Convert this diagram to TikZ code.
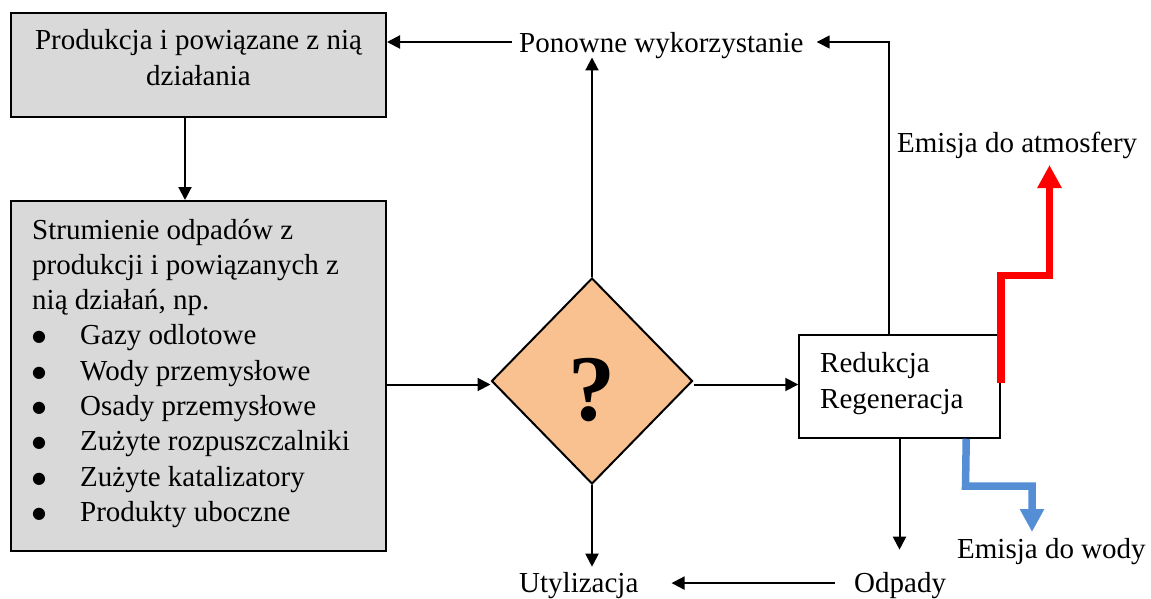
\documentclass[tikz,border=0pt]{standalone}
\usepackage{fontspec}
\setmainfont{Liberation Serif}
\newfontfamily\dejavu{DejaVu Sans}
\usetikzlibrary{arrows.meta,shapes.geometric}
\definecolor{boxgray}{HTML}{D9D9D9}
\definecolor{peach}{HTML}{F8C18F}
\definecolor{emblue}{HTML}{558ED5}
\newcommand{\blt}{\makebox[48pt][l]{\raisebox{3pt}[0pt][0pt]{\dejavu\fontsize{16pt}{16pt}\selectfont ●}}}
\begin{document}
\begin{tikzpicture}[x=1pt,y=-1pt,
  txt/.style={font=\fontsize{29pt}{35.3pt}\selectfont, inner sep=0pt},
  graybox/.style={draw=black, line width=2pt, fill=boxgray, rectangle, inner sep=0pt},
  arr/.style={line width=2pt, -{Triangle[length=13pt,width=13pt]}},
  thickarr/.style={line width=7.5pt, line join=miter, -{Triangle[length=23pt,width=23pt]}},
]
\useasboundingbox (0,0) rectangle (1151,599);

% boxes
\node[graybox, minimum width=375pt, minimum height=104pt] (box1) at (198.5,65) {};
\node[graybox, minimum width=375pt, minimum height=350pt] (box2) at (198.5,376) {};
\node[draw, line width=2pt, fill=peach, diamond, minimum width=201pt, minimum height=206pt, inner sep=0pt] (dia) at (592,381) {};
\node[draw, line width=1.5pt, fill=white, rectangle, minimum width=201pt, minimum height=103pt, inner sep=0pt] (red) at (899.5,386.5) {};

% texts
\node[txt, anchor=base] (t1) at (198.5,50) {\parbox[t]{375pt}{\centering Produkcja i powiązane z nią\\działania}};
\node[txt, anchor=base west] (t2) at (32,239) {\parbox[t]{350pt}{\raggedright Strumienie odpadów z\\produkcji i powiązanych z\\nią działań, np.\\\blt Gazy odlotowe\\\blt Wody przemysłowe\\\blt Osady przemysłowe\\\blt Zużyte rozpuszczalniki\\\blt Zużyte katalizatory\\\blt Produkty uboczne}};
\node[txt, anchor=base west] (t3) at (820,372.7) {\parbox[t]{170pt}{\raggedright Redukcja\\Regeneracja}};
\node[font=\fontsize{94pt}{94pt}\selectfont\bfseries, inner sep=0pt] (q) at (592,390) {?};
\node[txt, anchor=base west] (reuse) at (519,53) {Ponowne wykorzystanie};
\node[txt, anchor=base west] (util) at (519,592) {Utylizacja};
\node[txt, anchor=base west] (odp) at (854,592) {Odpady};
\node[txt, anchor=base west] (atm) at (897,153) {Emisja do atmosfery};
\node[txt, anchor=base west] (wat) at (957,558) {Emisja do wody};

% helper coordinates
\coordinate (ytop) at (0,42);
\coordinate (ymid) at (0,384.5);
\coordinate (rc1) at (1000,275.5);
\coordinate (rtip) at (1049.5,165);
\coordinate (bc1) at (965.5,486);
\coordinate (btip) at (1032,532);

% connectors
\draw[arr] ([xshift=-13.5pt]box1.south) -- ([xshift=-13.5pt]box2.north);
\draw[arr] (box2.east |- ymid) -- (dia.west |- ymid);
\draw[arr] (dia.east |- ymid) -- (red.west |- ymid);
\draw[arr] (dia.north) -- ([yshift=2pt]dia.north |- reuse.south);
\draw[arr] (dia.south) -- ([yshift=5pt]dia.south |- util.north);
\draw[arr] ([xshift=-7pt]reuse.west |- ytop) -- (box1.east |- ytop);
\draw[arr, line width=1.5pt] ([xshift=-10.5pt]red.north) |- ([xshift=13pt]reuse.east |- ytop);
\draw[arr] (red.south) -- ([yshift=22pt]red.south |- odp.north);
\draw[arr] ([xshift=-19pt,yshift=2pt]odp.west) -- ([xshift=33pt,yshift=2pt]util.east);

% emissions
\draw[thickarr, red] ([yshift=-49pt]red.north east) -- (red.north east |- rc1) -| (rtip);
\draw[thickarr, emblue] ([xshift=-34.5pt]red.south east) -- (bc1) -| (btip);
\end{tikzpicture}
\end{document}
